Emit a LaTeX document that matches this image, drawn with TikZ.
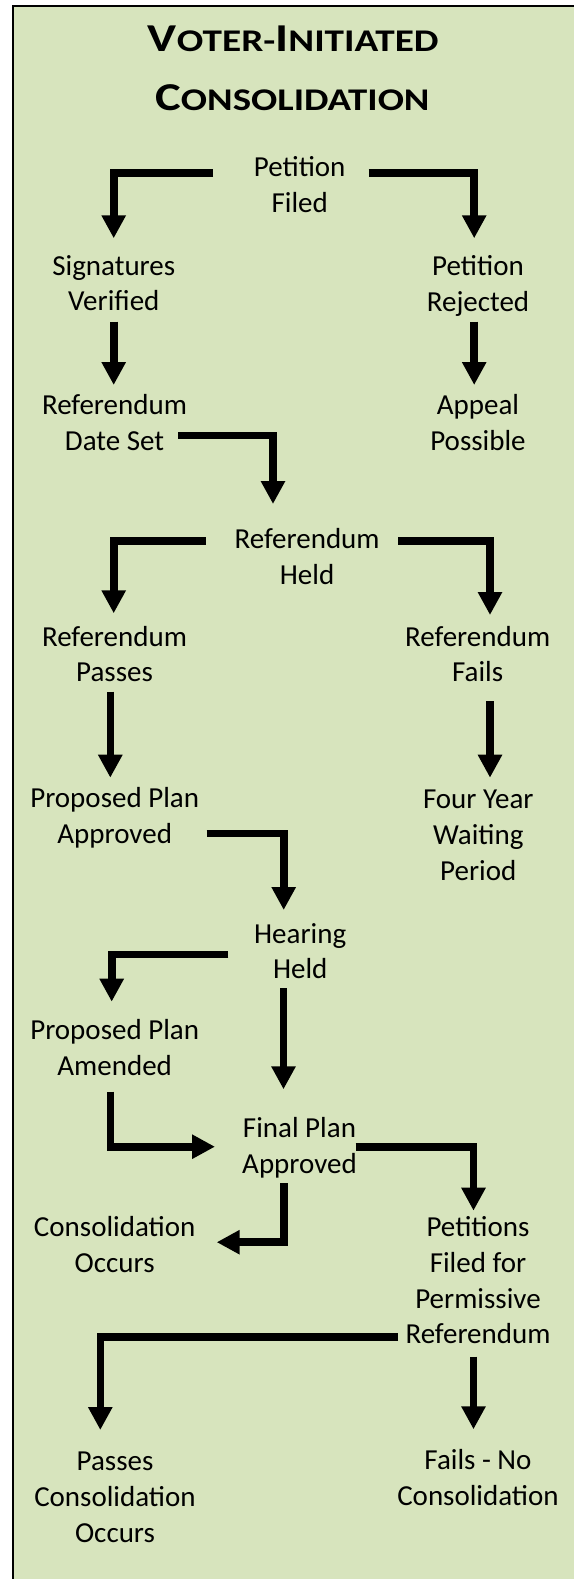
\documentclass[tikz,border=0pt]{standalone}
\usepackage{fontspec}
\usepackage{graphicx}
\setmainfont{Carlito}
\usetikzlibrary{arrows.meta,calc}
\definecolor{panel}{HTML}{D7E4BD}
\newcommand{\tbig}[1]{{\fontsize{39.5}{40}\selectfont #1}}
\newcommand{\tsmall}[1]{{\fontsize{31.6}{32}\selectfont #1}}
\tikzset{
  box/.style={align=center, inner sep=0pt, anchor=north, font=\fontsize{29}{35.8}\selectfont},
  flow/.style={line width=7.6pt, line join=miter, -{Triangle[length=23pt,width=23pt]}},
}
\begin{document}
\begin{tikzpicture}[x=1pt,y=-1pt]
    \useasboundingbox (0,0) rectangle (573,1579);
    \draw[line width=2pt, fill=panel] (13,6) rectangle (600,1600);

    % title
    \node[anchor=base, inner sep=0pt, font=\bfseries] (t1) at (293.3,51.7)
        {\resizebox{290.6pt}{\height}{\tbig{V}\tsmall{OTER-}\tbig{I}\tsmall{NITIATED}}};
    \node[anchor=base, inner sep=0pt, font=\bfseries] (t2) at (292.4,110)
        {\resizebox{274.2pt}{\height}{\tbig{C}\tsmall{ONSOLIDATION}}};

    \node[box] (pf) at (299.7,156.7) {Petition\\Filed};
    \node[box] (sv) at (113.8,255) {Signatures\\Verified};
    \node[box] (pr) at (478,255) {Petition\\Rejected};
    \node[box] (rd) at (114.5,394) {Referendum\\Date Set};
    \node[box] (ap) at (478,394) {Appeal\\Possible};
    \node[box] (rh) at (307.1,528) {Referendum\\Held};
    \node[box] (rp) at (114.5,625.7) {Referendum\\Passes};
    \node[box] (rf) at (477.7,625.7) {Referendum\\Fails};
    \node[box] (ppa) at (114.7,787.3) {Proposed Plan\\Approved};
    \node[box] (fy) at (478.3,790) {Four Year\\Waiting\\Period};
    \node[box] (hh) at (300.2,923) {Hearing\\Held};
    \node[box] (ppm) at (114.7,1019) {Proposed Plan\\Amended};
    \node[box] (fp) at (299.5,1117.3) {Final Plan\\Approved};
    \node[box] (co) at (114.7,1216.3) {Consolidation\\Occurs};
    \node[box] (pt) at (478,1216.3) {Petitions\\Filed for\\Permissive\\Referendum};
    \node[box] (pc) at (115,1451.7) {Passes\\Consolidation\\Occurs};
    \node[box] (fn) at (478,1449) {Fails - No\\Consolidation};

    % connectors
    \draw[flow] ($(pf.north)+(-86.7,16.3)$) -| ($(sv.north)+(-0.1,-16.7)$);
    \draw[flow] ($(pf.north)+(69,16.3)$) -| ($(pr.north)+(-3.8,-16.7)$);
    \draw[flow] ($(sv.north)+(-0.1,66.7)$) -- ($(rd.north)+(-0.8,-9)$);
    \draw[flow] ($(pr.north)+(-3.8,66.7)$) -- ($(ap.north)+(-3.8,-9)$);
    \draw[flow] ($(rd.north)+(63.8,41.5)$) -| ($(rh.north)+(-34.1,-24)$);
    \draw[flow] ($(rh.north)+(-101.4,13)$) -| ($(rp.north)+(-0.8,-12.4)$);
    \draw[flow] ($(rh.north)+(90.9,13)$) -| ($(rf.north)+(12.3,-10.7)$);
    \draw[flow] ($(rp.north)+(-4.2,66)$) -- ($(ppa.north)+(-4.4,-9.6)$);
    \draw[flow] ($(rf.north)+(12.3,75.3)$) -- ($(fy.north)+(11.7,-12.3)$);
    \draw[flow] ($(ppa.north)+(92,46)$) -| ($(hh.north)+(-16.5,-13)$);
    \draw[flow] ($(hh.north)+(-71.9,31.5)$) -| ($(ppm.north)+(-3,-17.3)$);
    \draw[flow] ($(hh.north)+(-16.7,65.3)$) -- ($(fp.north)+(-16,-28)$);
    \draw[flow] ($(ppm.north)+(-4.4,72.7)$) |- ($(fp.north)+(-84.5,29.4)$);
    \draw[flow] ($(fp.north)+(56.2,29.9)$) -| ($(pt.north)+(-4.5,-5.6)$);
    \draw[flow] ($(fp.north)+(-15.5,66)$) |- ($(co.north)+(102,25.9)$);
    \draw[flow] ($(pt.north)+(-80,120.9)$) -| ($(pc.north)+(-14.7,-21.7)$);
    \draw[flow] ($(pt.north)+(-4.5,140.4)$) -- ($(fn.north)+(-4.5,-19.7)$);
\end{tikzpicture}
\end{document}
